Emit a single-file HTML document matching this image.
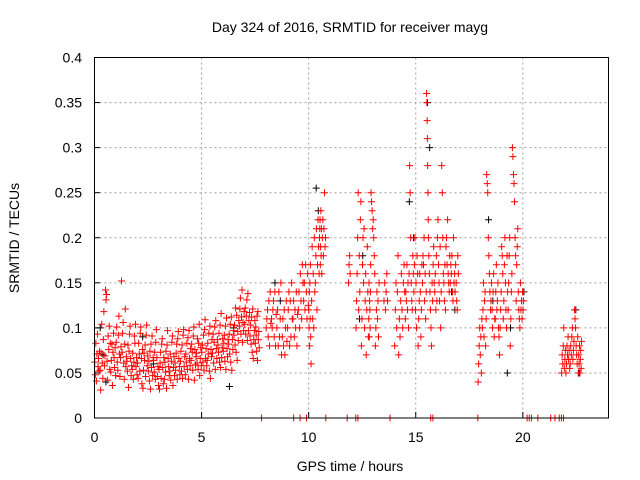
<!DOCTYPE html>
<html><head><meta charset="utf-8"><style>
body{margin:0;background:#fff}
svg{display:block;font-family:"Liberation Sans",sans-serif}
</style></head><body>
<svg id="chart" width="640" height="480">
<text x="350" y="32" text-anchor="middle" font-size="14" fill="#000">Day 324 of 2016, SRMTID for receiver mayg</text>
<text x="350" y="471" text-anchor="middle" font-size="14" fill="#000">GPS time / hours</text>
<text transform="translate(19,238) rotate(-90)" text-anchor="middle" font-size="14" fill="#000">SRMTID / TECUs</text>
<g id="grid"></g><g id="ticks"></g><g id="marks"></g>
<rect x="94.5" y="57.5" width="514" height="360.5" fill="none" stroke="#000" stroke-width="1"/>
</svg>
<script>
const xTicks=[0,5,10,15,20];
const yTicks=[0,0.05,0.1,0.15,0.2,0.25,0.3,0.35,0.4];
const yTickLabels=["0","0.05","0.1","0.15","0.2","0.25","0.3","0.35","0.4"];
// groups: [startHour, endHour, values]
const redGroups=[
[0,0.25,[.062,.048,.083,.041,.071,.093,.057,.066,.052,.074]],
[0.25,0.5,[.053,.031,.072,.104,.061,.044,.087,.118,.058,.069]],
[0.5,0.75,[.142,.131,.137,.063,.042,.091,.076,.102,.054,.083]],
[0.75,1,[.051,.064,.082,.036,.073,.094,.067,.056,.078,.047]],
[1,1.25,[.084,.101,.062,.053,.092,.113,.071,.046,.067,.079]],
[1.25,1.5,[.152,.073,.094,.106,.061,.043,.082,.121,.057,.068]],
[1.5,1.75,[.063,.052,.081,.034,.074,.093,.102,.066,.047,.058]],
[1.75,2,[.054,.072,.043,.062,.091,.083,.104,.057,.067,.048]],
[2,2.25,[.061,.044,.083,.071,.052,.094,.101,.066,.038,.076]],
[2.25,2.5,[.033,.053,.072,.064,.081,.046,.092,.103,.058,.069]],
[2.5,2.75,[.052,.063,.041,.074,.032,.082,.056,.091,.047,.067]],
[2.75,3,[.064,.051,.073,.043,.084,.098,.067,.046,.057,.036]],
[3,3.25,[.054,.032,.061,.073,.044,.082,.088,.056,.038,.067]],
[3.25,3.5,[.043,.062,.051,.074,.033,.081,.097,.066,.057,.047]],
[3.5,3.75,[.052,.071,.042,.063,.084,.091,.036,.056,.068,.047]],
[3.75,4,[.061,.053,.072,.082,.043,.088,.096,.066,.057,.048]],
[4,4.25,[.063,.074,.052,.081,.044,.092,.098,.057,.068,.048]],
[4.25,4.5,[.071,.062,.083,.054,.089,.043,.097,.066,.058,.077]],
[4.5,4.75,[.064,.082,.073,.053,.091,.101,.042,.076,.059,.068]],
[4.75,5,[.072,.061,.088,.054,.083,.104,.047,.066,.078,.058]],
[5,5.25,[.073,.081,.062,.092,.053,.098,.109,.066,.077,.058]],
[5.25,5.5,[.064,.083,.071,.094,.052,.102,.044,.076,.068,.087]],
[5.5,5.75,[.072,.093,.061,.084,.101,.054,.108,.077,.066,.087]],
[5.75,6,[.081,.073,.094,.062,.103,.056,.116,.067,.078,.088]],
[6,6.25,[.074,.083,.092,.063,.102,.054,.111,.077,.068,.087]],
[6.25,6.5,[.082,.093,.071,.104,.062,.112,.053,.087,.076,.097]],
[6.5,6.75,[.092,.103,.081,.122,.073,.114,.064,.096,.086,.108]],
[6.75,7,[.102,.121,.133,.093,.112,.142,.084,.106,.097,.118]],
[7,7.25,[.104,.122,.093,.113,.131,.086,.138,.097,.108,.117]],
[7.25,7.5,[.091,.103,.082,.112,.073,.121,.066,.087,.097,.108]],
[7.5,7.7,[.083,.101,.092,.074,.113,.064,.118,.087,.096,.078]],
[8,8.25,[.1,.11,.12,.09,.13,.08,.14,.105]],
[8.25,8.5,[.11,.1,.12,.13,.09,.14,.08,.115]],
[8.5,8.75,[.1,.12,.08,.14,.09,.11,.15,.07]],
[8.75,9,[.09,.11,.08,.12,.07,.1,.13,.085]],
[9,9.25,[.1,.12,.14,.08,.13,.09,.15,.11]],
[9.25,9.5,[.11,.13,.09,.12,.1,.14,.08,.115]],
[9.5,9.75,[.12,.14,.1,.16,.13,.11,.17,.15]],
[9.75,10,[.13,.15,.12,.17,.14,.11,.16,.125]],
[10,10.1,[.12,.1,.14,.08,.15,.11,.17,.09]],
[10.1,10.3,[.06,.13,.19,.11,.16,.1,.2,.14]],
[10.3,10.5,[.15,.18,.21,.12,.17,.22,.19,.16]],
[10.5,10.6,[.2,.21,.22,.17,.19,.23,.18,.21]],
[10.6,10.8,[.16,.2,.22,.18,.21,.25,.19,.2]],
[11.85,11.95,[.15,.17,.18,.16]],
[12.2,12.4,[.1,.13,.16,.2,.25,.12,.18,.14]],
[12.4,12.6,[.22,.24,.08,.11,.17,.2,.15,.21]],
[12.6,12.8,[.1,.13,.16,.07,.12,.19,.14,.09]],
[12.8,12.9,[.11,.15,.09,.13,.12,.1,.14,.17]],
[12.9,13.1,[.25,.24,.23,.21,.22,.2,.18,.16]],
[13.1,13.3,[.08,.1,.12,.14,.11,.13,.09,.15]],
[13.5,13.7,[.13,.15,.12,.14,.16,.13]],
[14,14.25,[.08,.12,.15,.1,.14,.18,.07,.11]],
[14.25,14.5,[.09,.13,.16,.12,.1,.15,.17,.14]],
[14.5,14.7,[.11,.14,.13,.17,.12,.15,.1,.16]],
[14.7,14.9,[.28,.25,.2,.15,.13,.12,.18,.16]],
[14.9,15.1,[.14,.17,.2,.12,.15,.1,.18,.16]],
[15.1,15.3,[.08,.11,.13,.16,.14,.09,.12,.17]],
[15.3,15.5,[.15,.18,.17,.2,.13,.16,.11,.14]],
[15.5,15.6,[.36,.35,.33,.31,.28,.25,.22,.2]],
[15.6,15.8,[.18,.16,.14,.12,.1,.08,.15,.13]],
[15.8,16,[.17,.19,.15,.14,.16,.12,.18,.13]],
[16,16.2,[.2,.22,.17,.15,.13,.19,.1,.14]],
[16.2,16.4,[.28,.25,.2,.16,.15,.13,.17,.12]],
[16.4,16.6,[.19,.2,.17,.22,.16,.15,.14,.18]],
[16.6,16.8,[.15,.17,.16,.18,.14,.13,.2,.15]],
[16.8,17,[.16,.14,.17,.15,.13,.12,.18,.16]],
[17.9,18.1,[.04,.06,.08,.1,.07,.09,.05,.11]],
[18.1,18.3,[.1,.12,.15,.09,.13,.14,.08,.11]],
[18.3,18.5,[.27,.26,.25,.2,.18,.16,.14,.12]],
[18.5,18.7,[.13,.15,.12,.1,.14,.16,.09,.11]],
[18.7,18.9,[.11,.14,.17,.12,.13,.15,.1,.09]],
[18.9,19.1,[.07,.1,.12,.14,.19,.18,.16,.11]],
[19.1,19.3,[.13,.17,.2,.15,.12,.1,.18,.14]],
[19.3,19.5,[.12,.15,.18,.2,.08,.11,.14,.16]],
[19.5,19.7,[.3,.29,.27,.26,.24,.2,.18,.13]],
[19.7,19.9,[.17,.19,.21,.14,.12,.11,.1,.15]],
[19.9,20.05,[.12,.13,.11,.14,.12,.13]],
[21.8,22,[.05,.07,.06,.08,.1,.055,.065,.075]],
[22,22.2,[.05,.06,.08,.07,.09,.065,.075,.055]],
[22.2,22.4,[.06,.08,.07,.09,.1,.065,.075,.085]],
[22.4,22.6,[.12,.11,.1,.08,.07,.06,.09,.05]],
[22.6,22.75,[.07,.06,.08,.05,.065,.075,.055,.085]]
];
const blackGroups=[
[0.2,0.6,[.1,.07,.04]],[2,3,[.09,.06]],[6.2,6.6,[.035,.1]],
[8.3,8.8,[.15,.13]],[10.3,10.5,[.255,.23]],[12.3,12.6,[.11,.18]],
[14.6,15,[.24,.2]],[15.5,15.7,[.35,.3]],[16.6,16.9,[.14,.12]],
[18.3,18.7,[.22,.13]],[19.2,19.5,[.05,.1]],[20,20.1,[.14]],[22.4,22.7,[.12,.05]]
];
const zeroHours=[7.8,9.3,9.6,9.9,10.8,11.8,12.2,12.3,13.8,15.7,15.8,17.9,20.2,20.3,20.4,20.7,21.3,21.5,21.7,21.8,21.9];

const NS="http://www.w3.org/2000/svg";
const xS=h=>94.5+h*(514/24);
const yS=v=>418-v*(360.5/0.4);
const grid=document.getElementById('grid'),ticks=document.getElementById('ticks'),marks=document.getElementById('marks');
function mk(tag,attrs,parent){const e=document.createElementNS(NS,tag);for(const k in attrs)e.setAttribute(k,attrs[k]);parent.appendChild(e);return e;}
yTicks.forEach((v,i)=>{
  const y=yS(v);
  if(i>0&&i<yTicks.length-1){const g=mk('line',{x1:94.5,x2:608.5,y1:y,y2:y,stroke:'#a0a0a0','stroke-dasharray':'2,3'},grid);
  
  }
  const t=mk('text',{x:82,y:y+5,'text-anchor':'end','font-size':14,fill:'#000'},ticks);
  t.textContent=yTickLabels[i];
  
  
  mk('line',{x1:94.5,x2:100,y1:y,y2:y,stroke:'#000'},ticks);
});
xTicks.forEach(h=>{
  const x=xS(h);
  if(h>0){const g=mk('line',{x1:x,x2:x,y1:57.5,y2:418,stroke:'#a0a0a0','stroke-dasharray':'2,3'},grid);
  
  }
  const t=mk('text',{x:x,y:442,'text-anchor':'middle','font-size':14,fill:'#000'},ticks);
  t.textContent=String(h);
  
  
  mk('line',{x1:x,x2:x,y1:418,y2:412,stroke:'#000'},ticks);
});
function plus(h,v,color,name){
  const x=xS(h),y=yS(v);
  const p=mk('path',{d:`M${x-3.5},${y}H${x+3.5}M${x},${y-3.5}V${y+3.5}`,stroke:color,'stroke-width':1,fill:'none'},marks);
  
  
}
function drawGroups(groups,color,name){
  groups.forEach(([a,b,vals])=>{
    vals.forEach((v,i)=>{const h=a+(b-a)*(i+0.5)/vals.length;plus(h,v,color,name);});
  });
}
drawGroups(blackGroups,'#000','black-point');
drawGroups(redGroups,'#f00','red-point');
zeroHours.forEach(h=>plus(h,0,'#f00','zero-point'));
</script>
</body></html>
